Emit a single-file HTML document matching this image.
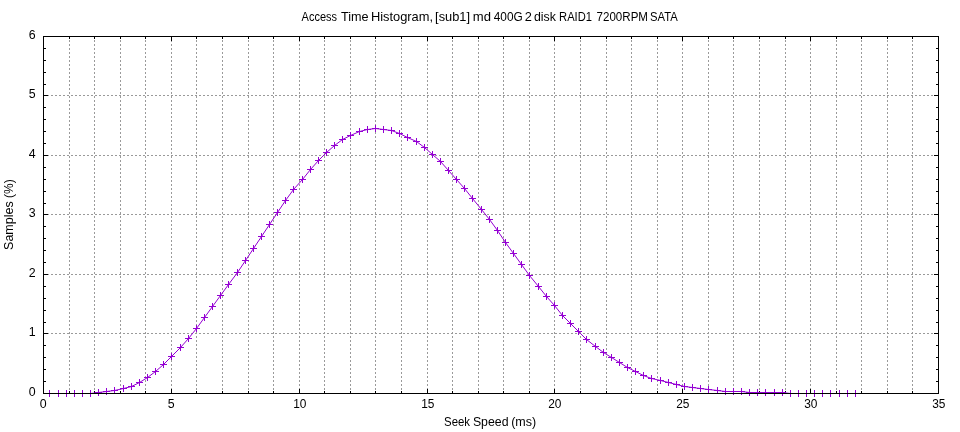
<!DOCTYPE html>
<html><head><meta charset="utf-8"><title>Access Time Histogram</title>
<style>
html,body{margin:0;padding:0;background:#fff;}
body{width:960px;height:432px;overflow:hidden;font-family:"Liberation Sans",sans-serif;}
svg{display:block;will-change:transform;}
text{font-family:"Liberation Sans",sans-serif;fill:#000;}
</style></head><body>
<svg width="960" height="432" viewBox="0 0 960 432">
<rect width="960" height="432" fill="#fff"/>

<g stroke="#9a9a9a" stroke-width="1" stroke-dasharray="2,2" shape-rendering="crispEdges" fill="none">
<path d="M69.5 393.5V36.5"/>
<path d="M94.5 393.5V36.5"/>
<path d="M120.5 393.5V36.5"/>
<path d="M145.5 393.5V36.5"/>
<path d="M171.5 393.5V36.5"/>
<path d="M196.5 393.5V36.5"/>
<path d="M222.5 393.5V36.5"/>
<path d="M248.5 393.5V36.5"/>
<path d="M273.5 393.5V36.5"/>
<path d="M299.5 393.5V36.5"/>
<path d="M324.5 393.5V36.5"/>
<path d="M350.5 393.5V36.5"/>
<path d="M375.5 393.5V36.5"/>
<path d="M401.5 393.5V36.5"/>
<path d="M427.5 393.5V36.5"/>
<path d="M452.5 393.5V36.5"/>
<path d="M478.5 393.5V36.5"/>
<path d="M503.5 393.5V36.5"/>
<path d="M529.5 393.5V36.5"/>
<path d="M554.5 393.5V36.5"/>
<path d="M580.5 393.5V36.5"/>
<path d="M606.5 393.5V36.5"/>
<path d="M631.5 393.5V36.5"/>
<path d="M657.5 393.5V36.5"/>
<path d="M682.5 393.5V36.5"/>
<path d="M708.5 393.5V36.5"/>
<path d="M733.5 393.5V36.5"/>
<path d="M759.5 393.5V36.5"/>
<path d="M785.5 393.5V36.5"/>
<path d="M810.5 393.5V36.5"/>
<path d="M836.5 393.5V36.5"/>
<path d="M861.5 393.5V36.5"/>
<path d="M887.5 393.5V36.5"/>
<path d="M912.5 393.5V36.5"/>
<path d="M43 333.5H939"/>
<path d="M43 274.5H939"/>
<path d="M43 214.5H939"/>
<path d="M43 155.5H939"/>
<path d="M43 95.5H939"/>
</g>
<path d="M43.5 394v-5M43.5 36v5M69.5 394v-3M69.5 36v3M94.5 394v-3M94.5 36v3M120.5 394v-3M120.5 36v3M145.5 394v-3M145.5 36v3M171.5 394v-5M171.5 36v5M196.5 394v-3M196.5 36v3M222.5 394v-3M222.5 36v3M248.5 394v-3M248.5 36v3M273.5 394v-3M273.5 36v3M299.5 394v-5M299.5 36v5M324.5 394v-3M324.5 36v3M350.5 394v-3M350.5 36v3M375.5 394v-3M375.5 36v3M401.5 394v-3M401.5 36v3M427.5 394v-5M427.5 36v5M452.5 394v-3M452.5 36v3M478.5 394v-3M478.5 36v3M503.5 394v-3M503.5 36v3M529.5 394v-3M529.5 36v3M554.5 394v-5M554.5 36v5M580.5 394v-3M580.5 36v3M606.5 394v-3M606.5 36v3M631.5 394v-3M631.5 36v3M657.5 394v-3M657.5 36v3M682.5 394v-5M682.5 36v5M708.5 394v-3M708.5 36v3M733.5 394v-3M733.5 36v3M759.5 394v-3M759.5 36v3M785.5 394v-3M785.5 36v3M810.5 394v-5M810.5 36v5M836.5 394v-3M836.5 36v3M861.5 394v-3M861.5 36v3M887.5 394v-3M887.5 36v3M912.5 394v-3M912.5 36v3M938.5 394v-5M938.5 36v5M43 393.5h5M939 393.5h-5M43 381.5h3M939 381.5h-3M43 369.5h3M939 369.5h-3M43 357.5h3M939 357.5h-3M43 345.5h3M939 345.5h-3M43 333.5h5M939 333.5h-5M43 322.5h3M939 322.5h-3M43 310.5h3M939 310.5h-3M43 298.5h3M939 298.5h-3M43 286.5h3M939 286.5h-3M43 274.5h5M939 274.5h-5M43 262.5h3M939 262.5h-3M43 250.5h3M939 250.5h-3M43 238.5h3M939 238.5h-3M43 226.5h3M939 226.5h-3M43 214.5h5M939 214.5h-5M43 203.5h3M939 203.5h-3M43 191.5h3M939 191.5h-3M43 179.5h3M939 179.5h-3M43 167.5h3M939 167.5h-3M43 155.5h5M939 155.5h-5M43 143.5h3M939 143.5h-3M43 131.5h3M939 131.5h-3M43 119.5h3M939 119.5h-3M43 107.5h3M939 107.5h-3M43 95.5h5M939 95.5h-5M43 84.5h3M939 84.5h-3M43 72.5h3M939 72.5h-3M43 60.5h3M939 60.5h-3M43 48.5h3M939 48.5h-3M43 36.5h5M939 36.5h-5" stroke="#000" stroke-width="1" fill="none" shape-rendering="crispEdges"/>
<polyline points="49.5,393.5 58.5,393.5 66.5,393.5 74.5,393.5 82.5,393.5 90.5,393.5 98.5,392.5 106.5,391.5 114.5,390.5 123.5,388.5 131.5,386.5 139.5,382.5 147.5,377.5 155.5,371.5 163.5,364.5 171.5,356.5 180.5,347.5 188.5,338.5 196.5,328.5 204.5,317.5 212.5,306.5 220.5,295.5 228.5,284.5 237.5,272.5 245.5,260.5 253.5,248.5 261.5,236.5 269.5,224.5 277.5,212.5 285.5,200.5 293.5,189.5 302.5,179.5 310.5,169.5 318.5,160.5 326.5,152.5 334.5,145.5 342.5,139.5 350.5,135.5 359.5,131.5 367.5,129.5 375.5,128.5 383.5,129.5 391.5,130.5 399.5,133.5 407.5,137.5 416.5,141.5 424.5,147.5 432.5,154.5 440.5,161.5 448.5,170.5 456.5,179.5 464.5,188.5 472.5,198.5 481.5,209.5 489.5,219.5 497.5,230.5 505.5,242.5 513.5,253.5 521.5,264.5 529.5,275.5 538.5,286.5 546.5,296.5 554.5,305.5 562.5,315.5 570.5,323.5 578.5,331.5 586.5,339.5 595.5,346.5 603.5,352.5 611.5,357.5 619.5,362.5 627.5,367.5 635.5,371.5 643.5,375.5 651.5,378.5 660.5,380.5 668.5,382.5 676.5,384.5 684.5,386.5 692.5,387.5 700.5,388.5 708.5,389.5 717.5,390.5 725.5,391.5 733.5,391.5 741.5,391.5 749.5,392.5 757.5,392.5 765.5,392.5 774.5,392.5 782.5,392.5 790.5,393.5 798.5,393.5 806.5,393.5 814.5,393.5 822.5,393.5 830.5,393.5 839.5,393.5 847.5,393.5 855.5,393.5" fill="none" stroke="#9400d3" stroke-width="1" stroke-linejoin="round"/>
<path d="M46.0 393.5h7M49.5 390.0v7M55.0 393.5h7M58.5 390.0v7M63.0 393.5h7M66.5 390.0v7M71.0 393.5h7M74.5 390.0v7M79.0 393.5h7M82.5 390.0v7M87.0 393.5h7M90.5 390.0v7M95.0 392.5h7M98.5 389.0v7M103.0 391.5h7M106.5 388.0v7M111.0 390.5h7M114.5 387.0v7M120.0 388.5h7M123.5 385.0v7M128.0 386.5h7M131.5 383.0v7M136.0 382.5h7M139.5 379.0v7M144.0 377.5h7M147.5 374.0v7M152.0 371.5h7M155.5 368.0v7M160.0 364.5h7M163.5 361.0v7M168.0 356.5h7M171.5 353.0v7M177.0 347.5h7M180.5 344.0v7M185.0 338.5h7M188.5 335.0v7M193.0 328.5h7M196.5 325.0v7M201.0 317.5h7M204.5 314.0v7M209.0 306.5h7M212.5 303.0v7M217.0 295.5h7M220.5 292.0v7M225.0 284.5h7M228.5 281.0v7M234.0 272.5h7M237.5 269.0v7M242.0 260.5h7M245.5 257.0v7M250.0 248.5h7M253.5 245.0v7M258.0 236.5h7M261.5 233.0v7M266.0 224.5h7M269.5 221.0v7M274.0 212.5h7M277.5 209.0v7M282.0 200.5h7M285.5 197.0v7M290.0 189.5h7M293.5 186.0v7M299.0 179.5h7M302.5 176.0v7M307.0 169.5h7M310.5 166.0v7M315.0 160.5h7M318.5 157.0v7M323.0 152.5h7M326.5 149.0v7M331.0 145.5h7M334.5 142.0v7M339.0 139.5h7M342.5 136.0v7M347.0 135.5h7M350.5 132.0v7M356.0 131.5h7M359.5 128.0v7M364.0 129.5h7M367.5 126.0v7M372.0 128.5h7M375.5 125.0v7M380.0 129.5h7M383.5 126.0v7M388.0 130.5h7M391.5 127.0v7M396.0 133.5h7M399.5 130.0v7M404.0 137.5h7M407.5 134.0v7M413.0 141.5h7M416.5 138.0v7M421.0 147.5h7M424.5 144.0v7M429.0 154.5h7M432.5 151.0v7M437.0 161.5h7M440.5 158.0v7M445.0 170.5h7M448.5 167.0v7M453.0 179.5h7M456.5 176.0v7M461.0 188.5h7M464.5 185.0v7M469.0 198.5h7M472.5 195.0v7M478.0 209.5h7M481.5 206.0v7M486.0 219.5h7M489.5 216.0v7M494.0 230.5h7M497.5 227.0v7M502.0 242.5h7M505.5 239.0v7M510.0 253.5h7M513.5 250.0v7M518.0 264.5h7M521.5 261.0v7M526.0 275.5h7M529.5 272.0v7M535.0 286.5h7M538.5 283.0v7M543.0 296.5h7M546.5 293.0v7M551.0 305.5h7M554.5 302.0v7M559.0 315.5h7M562.5 312.0v7M567.0 323.5h7M570.5 320.0v7M575.0 331.5h7M578.5 328.0v7M583.0 339.5h7M586.5 336.0v7M592.0 346.5h7M595.5 343.0v7M600.0 352.5h7M603.5 349.0v7M608.0 357.5h7M611.5 354.0v7M616.0 362.5h7M619.5 359.0v7M624.0 367.5h7M627.5 364.0v7M632.0 371.5h7M635.5 368.0v7M640.0 375.5h7M643.5 372.0v7M648.0 378.5h7M651.5 375.0v7M657.0 380.5h7M660.5 377.0v7M665.0 382.5h7M668.5 379.0v7M673.0 384.5h7M676.5 381.0v7M681.0 386.5h7M684.5 383.0v7M689.0 387.5h7M692.5 384.0v7M697.0 388.5h7M700.5 385.0v7M705.0 389.5h7M708.5 386.0v7M714.0 390.5h7M717.5 387.0v7M722.0 391.5h7M725.5 388.0v7M730.0 391.5h7M733.5 388.0v7M738.0 391.5h7M741.5 388.0v7M746.0 392.5h7M749.5 389.0v7M754.0 392.5h7M757.5 389.0v7M762.0 392.5h7M765.5 389.0v7M771.0 392.5h7M774.5 389.0v7M779.0 392.5h7M782.5 389.0v7M787.0 393.5h7M790.5 390.0v7M795.0 393.5h7M798.5 390.0v7M803.0 393.5h7M806.5 390.0v7M811.0 393.5h7M814.5 390.0v7M819.0 393.5h7M822.5 390.0v7M827.0 393.5h7M830.5 390.0v7M836.0 393.5h7M839.5 390.0v7M844.0 393.5h7M847.5 390.0v7M852.0 393.5h7M855.5 390.0v7" stroke="#9400d3" stroke-width="1" fill="none" shape-rendering="crispEdges"/>
<rect x="43.5" y="36.5" width="895" height="357" fill="none" stroke="#000" stroke-width="1" shape-rendering="crispEdges"/>
<text transform="translate(301.60 20.8) scale(0.8454 1)" font-size="13.0">Access</text>
<text transform="translate(341.00 20.8) scale(0.9729 1)" font-size="13.0">Time</text>
<text transform="translate(370.88 20.8) scale(0.9899 1)" font-size="13.0">Histogram,</text>
<text transform="translate(435.11 20.8) scale(0.9871 1)" font-size="13.0">[sub1]</text>
<text transform="translate(472.84 20.8) scale(1.0074 1)" font-size="13.0">md</text>
<text transform="translate(493.76 20.8) scale(0.9128 1)" font-size="13.0">400G</text>
<text transform="translate(524.76 20.8) scale(0.9861 1)" font-size="13.0">2</text>
<text transform="translate(533.91 20.8) scale(0.9526 1)" font-size="13.0">disk</text>
<text transform="translate(559.11 20.8) scale(0.8600 1)" font-size="13.0">RAID1</text>
<text transform="translate(596.53 20.8) scale(0.8912 1)" font-size="13.0">7200RPM</text>
<text transform="translate(650.04 20.8) scale(0.8663 1)" font-size="13.0">SATA</text>
<text transform="translate(444.03 425.8) scale(0.8792 1)" font-size="13.0">Seek</text>
<text transform="translate(472.89 425.8) scale(0.9485 1)" font-size="13.0">Speed</text>
<text transform="translate(511.15 425.8) scale(0.9641 1)" font-size="13.0">(ms)</text>
<text transform="translate(13.1 249.92) rotate(-90) scale(0.9616 1)" font-size="13.0">Samples</text>
<text transform="translate(13.1 197.91) rotate(-90) scale(0.9198 1)" font-size="13.0">(%)</text>
<text transform="translate(35.6 396.0) scale(0.953 1)" text-anchor="end" font-size="13.0">0</text>
<text transform="translate(35.6 336.0) scale(0.953 1)" text-anchor="end" font-size="13.0">1</text>
<text transform="translate(35.6 277.0) scale(0.953 1)" text-anchor="end" font-size="13.0">2</text>
<text transform="translate(35.6 217.0) scale(0.953 1)" text-anchor="end" font-size="13.0">3</text>
<text transform="translate(35.6 158.0) scale(0.953 1)" text-anchor="end" font-size="13.0">4</text>
<text transform="translate(35.6 98.0) scale(0.953 1)" text-anchor="end" font-size="13.0">5</text>
<text transform="translate(35.6 39.0) scale(0.953 1)" text-anchor="end" font-size="13.0">6</text>
<text transform="translate(43.3 407.9) scale(0.953 1)" text-anchor="middle" font-size="13.0">0</text>
<text transform="translate(171.3 407.9) scale(0.953 1)" text-anchor="middle" font-size="13.0">5</text>
<text transform="translate(299.85 407.9) scale(0.915 1)" text-anchor="middle" font-size="13.0">10</text>
<text transform="translate(427.85 407.9) scale(0.915 1)" text-anchor="middle" font-size="13.0">15</text>
<text transform="translate(554.85 407.9) scale(0.915 1)" text-anchor="middle" font-size="13.0">20</text>
<text transform="translate(682.85 407.9) scale(0.915 1)" text-anchor="middle" font-size="13.0">25</text>
<text transform="translate(810.85 407.9) scale(0.915 1)" text-anchor="middle" font-size="13.0">30</text>
<text transform="translate(938.85 407.9) scale(0.915 1)" text-anchor="middle" font-size="13.0">35</text>
</svg></body></html>
